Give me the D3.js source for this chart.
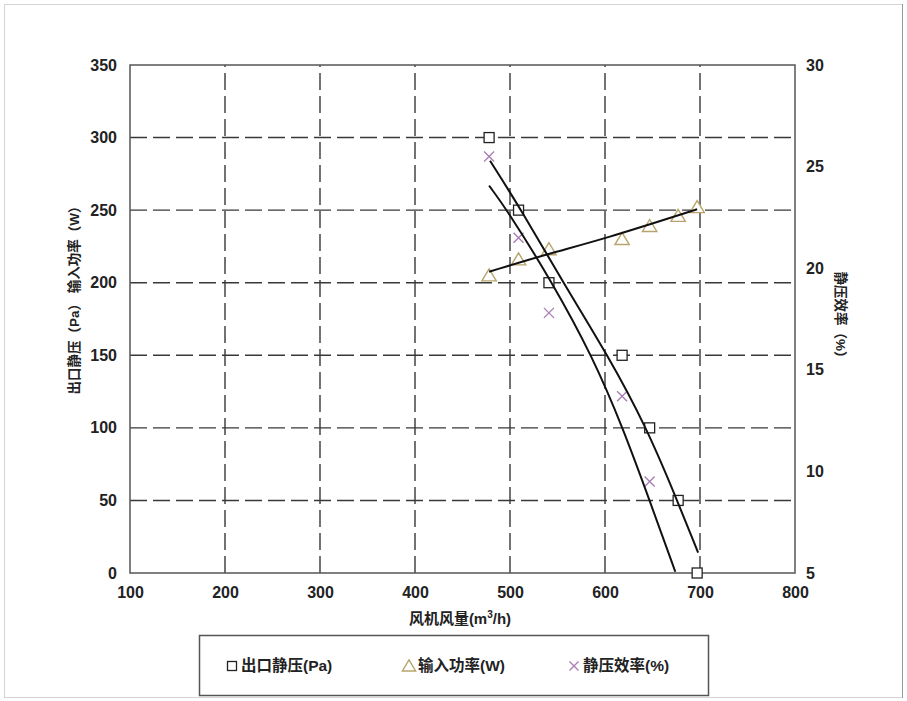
<!DOCTYPE html>
<html>
<head>
<meta charset="utf-8">
<script src="https://cdn.jsdelivr.net/npm/d3@7"></script>
<style>
body { margin: 0; background: #fff; }
text { font-family: "Liberation Sans", "Noto Sans CJK SC", sans-serif; font-weight: bold; fill: #222; }
</style>
</head>
<body>
<script>
// measured points (flow in m3/h)
var flow = [478, 509, 541, 618, 647, 677, 697];
var pressure = [300, 250, 200, 150, 100, 50, 0];
var power = [205, 216, 223, 230, 239, 246, 252];
var effFlow = [478, 509, 541, 618, 647];
var efficiency = [25.5, 21.5, 17.8, 13.7, 9.5];

// trend lines
var pressureFitFlow = [479, 512, 556, 603, 644, 676, 698];
var pressureFit = [284, 250, 200, 150, 100, 50, 14];
var powerFitFlow = [478, 542, 598, 697];
var powerFit = [207.6, 220.3, 229.9, 250.6];
var effFitFlow = [478, 497, 544, 587, 619, 647, 674];
var effFit = [24.06, 22.86, 19.34, 15.64, 12.12, 8.56, 5.06];

var xTicks = [100, 200, 300, 400, 500, 600, 700, 800];
var yTicks = [0, 50, 100, 150, 200, 250, 300, 350];
var y2Ticks = [5, 10, 15, 20, 25, 30];
var legendNames = ["出口静压(Pa)", "输入功率(W)", "静压效率(%)"];

var W = 907, H = 701;
var pL = 130, pR = 795, pT = 65, pB = 573;

var svg = d3.select("body").append("svg")
	.attr("width", W)
	.attr("height", H);

// outer frame
svg.append("rect")
	.attr("x", 4.5).attr("y", 4.5)
	.attr("width", 898).attr("height", 693)
	.attr("fill", "none").attr("stroke", "#d4d4d4");
svg.append("line")
	.attr("x1", 902.5).attr("x2", 902.5).attr("y1", 4).attr("y2", 698)
	.attr("stroke", "#999");

var x = d3.scaleLinear().domain([100, 800]).range([pL, pR]);
var y = d3.scaleLinear().domain([0, 350]).range([pB, pT]);
var y2 = d3.scaleLinear().domain([5, 30]).range([pB, pT]);

// dashed grid
svg.selectAll("line.hgrid")
	.data(yTicks.slice(1, -1))
	.enter().append("line")
	.attr("class", "hgrid")
	.attr("x1", pL).attr("x2", pR)
	.attr("y1", function(d){ return y(d); })
	.attr("y2", function(d){ return y(d); })
	.attr("stroke", "#383838").attr("stroke-width", 1.4)
	.attr("stroke-dasharray", "17,6");
svg.selectAll("line.vgrid")
	.data(xTicks.slice(1, -1))
	.enter().append("line")
	.attr("class", "vgrid")
	.attr("x1", function(d){ return x(d); })
	.attr("x2", function(d){ return x(d); })
	.attr("y1", pB).attr("y2", pT)
	.attr("stroke", "#383838").attr("stroke-width", 1.4)
	.attr("stroke-dasharray", "17,6");

svg.append("rect")
	.attr("x", pL).attr("y", pT)
	.attr("width", pR - pL).attr("height", pB - pT)
	.attr("fill", "none").attr("stroke", "#555").attr("stroke-width", 1.5);

// axes (labels only, lines are the frame)
var axL = svg.append("g").attr("transform", "translate(" + pL + ",0)")
	.call(d3.axisLeft(y).tickValues(yTicks).tickSize(0).tickPadding(13));
var axR = svg.append("g").attr("transform", "translate(" + pR + ",0)")
	.call(d3.axisRight(y2).tickValues(y2Ticks).tickSize(0).tickPadding(11));
var axB = svg.append("g").attr("transform", "translate(0," + pB + ")")
	.call(d3.axisBottom(x).tickValues(xTicks).tickSize(0).tickPadding(14));
[axL, axR, axB].forEach(function(a){
	a.select(".domain").remove();
	a.selectAll("text").style("font-size", "16px")
		.style("font-family", "'Liberation Sans', sans-serif")
		.style("font-weight", "bold").attr("fill", "#222");
});

// axis titles
svg.append("text")
	.attr("x", 460).attr("y", 624)
	.attr("text-anchor", "middle")
	.style("font-size", "15px")
	.html("风机风量(m<tspan dy='-6' style='font-size:10px'>3</tspan><tspan dy='6'>/h)</tspan>");
svg.append("text")
	.attr("transform", "translate(79,297) rotate(-90)")
	.attr("text-anchor", "middle")
	.style("font-size", "13.5px")
	.text("出口静压（Pa） 输入功率（W）");
svg.append("text")
	.attr("transform", "translate(836,318) rotate(90)")
	.attr("text-anchor", "middle")
	.style("font-size", "13.5px")
	.text("静压效率（%）");

// marker shapes
function drawSquare(g, cx, cy, s) {
	g.append("rect").attr("x", cx - s/2).attr("y", cy - s/2)
		.attr("width", s).attr("height", s)
		.attr("fill", "#fff").attr("stroke", "#222").attr("stroke-width", 1.3);
}
function drawTriangle(g, cx, cy, s) {
	g.append("path")
		.attr("d", "M" + cx + "," + (cy - s*0.55) + "L" + (cx + s*0.6) + "," + (cy + s*0.45) + "L" + (cx - s*0.6) + "," + (cy + s*0.45) + "Z")
		.attr("fill", "#fff").attr("stroke", "#b8a46c").attr("stroke-width", 1.4);
}
function drawCross(g, cx, cy, s) {
	g.append("path")
		.attr("d", "M" + (cx - s/2) + "," + (cy - s/2) + "L" + (cx + s/2) + "," + (cy + s/2) +
			"M" + (cx + s/2) + "," + (cy - s/2) + "L" + (cx - s/2) + "," + (cy + s/2))
		.attr("fill", "none").attr("stroke", "#a87cb4").attr("stroke-width", 1.3);
}

var marks = svg.append("g");
flow.forEach(function(f, i){ drawTriangle(marks, x(f), y(power[i]), 12); });
effFlow.forEach(function(f, i){ drawCross(marks, x(f), y2(efficiency[i]), 10); });
flow.forEach(function(f, i){ drawSquare(marks, x(f), y(pressure[i]), 10); });

// trend lines
function fitLine(xs, ys, sc) {
	var pts = xs.map(function(v, i){ return [x(v), sc(ys[i])]; });
	return d3.line().curve(d3.curveBasis)(pts);
}
[[pressureFitFlow, pressureFit, y], [powerFitFlow, powerFit, y], [effFitFlow, effFit, y2]]
	.forEach(function(s){
		svg.append("path")
			.attr("d", fitLine(s[0], s[1], s[2]))
			.attr("fill", "none").attr("stroke", "#111").attr("stroke-width", 2);
	});

// legend
var lg = svg.append("g");
lg.append("rect")
	.attr("x", 199.5).attr("y", 635.5)
	.attr("width", 509).attr("height", 60)
	.attr("fill", "#fff").attr("stroke", "#555").attr("stroke-width", 1.5);
var legX = [232, 409, 574];
drawSquare(lg, legX[0], 666, 9);
drawTriangle(lg, legX[1], 666, 11);
drawCross(lg, legX[2], 666, 9);
lg.selectAll("text.leg")
	.data(legendNames)
	.enter().append("text")
	.attr("class", "leg")
	.attr("x", function(d, i){ return legX[i] + 9; })
	.attr("y", 671)
	.style("font-size", "15.5px")
	.text(function(d){ return d; });
</script>
</body>
</html>
